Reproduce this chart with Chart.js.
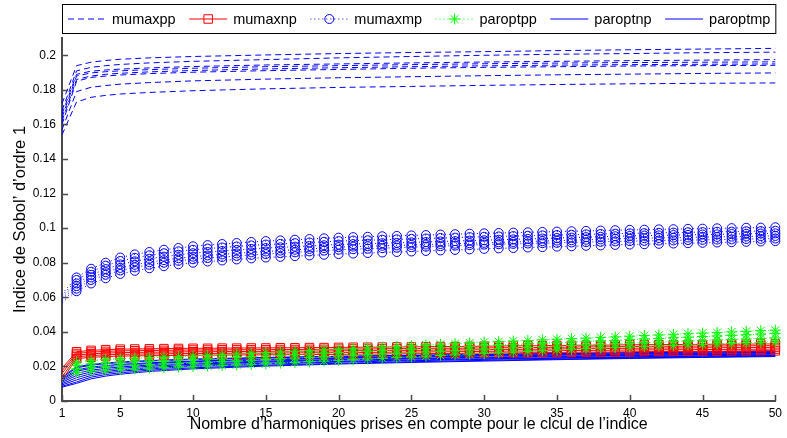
<!DOCTYPE html>
<html>
<head>
<meta charset="utf-8">
<script src="https://cdn.jsdelivr.net/npm/chart.js@4.4.1/dist/chart.umd.min.js"></script>
<style>
  html, body { margin: 0; padding: 0; background: #fff; }
</style>
</head>
<body>
<canvas id="c" width="787" height="438"></canvas>
<script>
// x des courbes avec marqueurs (un point par harmonique)
const xAll = [1,2,3,4,5,6,7,8,9,10,11,12,13,14,15,16,17,18,19,20,21,22,23,24,25,
  26,27,28,29,30,31,32,33,34,35,36,37,38,39,40,41,42,43,44,45,46,47,48,49,50];
// x des courbes sans marqueurs
const xSparse = [1,2,3,4,5,7,10,15,20,25,30,35,40,45,50];
const xTicks = [1,5,10,15,20,25,30,35,40,45,50];
const yTicks = [0,0.02,0.04,0.06,0.08,0.1,0.12,0.14,0.16,0.18,0.2];
const seriesNames = ['mumaxpp','mumaxnp','mumaxmp','paroptpp','paroptnp','paroptmp'];

const mumaxpp = [
  [0.1720,0.1940,0.1960,0.1970,0.1977,0.1985,0.1993,0.2002,0.2010,0.2016,0.2021,0.2027,0.2032,0.2036,0.2040],
  [0.1680,0.1910,0.1930,0.1940,0.1947,0.1956,0.1965,0.1975,0.1985,0.1993,0.2000,0.2006,0.2010,0.2015,0.2018],
  [0.1660,0.1890,0.1908,0.1915,0.1920,0.1927,0.1935,0.1944,0.1950,0.1956,0.1961,0.1965,0.1969,0.1972,0.1975],
  [0.1640,0.1880,0.1898,0.1905,0.1910,0.1917,0.1925,0.1934,0.1940,0.1946,0.1951,0.1955,0.1958,0.1960,0.1962],
  [0.1620,0.1860,0.1880,0.1890,0.1896,0.1904,0.1912,0.1921,0.1928,0.1934,0.1939,0.1943,0.1946,0.1948,0.1950],
  [0.1600,0.1850,0.1872,0.1880,0.1886,0.1894,0.1902,0.1911,0.1918,0.1925,0.1930,0.1934,0.1938,0.1940,0.1942],
  [0.1570,0.1790,0.1815,0.1825,0.1833,0.1842,0.1852,0.1862,0.1870,0.1876,0.1882,0.1887,0.1891,0.1895,0.1898],
  [0.1540,0.1730,0.1757,0.1768,0.1776,0.1785,0.1795,0.1806,0.1814,0.1820,0.1826,0.1831,0.1835,0.1838,0.1840]
];

const mumaxnp = [
  [0.0190,0.0285,0.0293,0.0297,0.0300,0.0301,0.0302,0.0303,0.0304,0.0305,
   0.0305,0.0306,0.0306,0.0307,0.0307,0.0308,0.0308,0.0309,0.0309,0.0310,
   0.0311,0.0311,0.0312,0.0313,0.0313,0.0314,0.0315,0.0315,0.0316,0.0317,
   0.0318,0.0319,0.0319,0.0320,0.0321,0.0322,0.0323,0.0323,0.0324,0.0325,
   0.0326,0.0326,0.0327,0.0327,0.0328,0.0328,0.0329,0.0329,0.0330,0.0330],
  [0.0175,0.0275,0.0283,0.0287,0.0290,0.0291,0.0292,0.0293,0.0294,0.0295,
   0.0295,0.0296,0.0296,0.0297,0.0297,0.0298,0.0298,0.0299,0.0299,0.0300,
   0.0301,0.0301,0.0302,0.0303,0.0303,0.0304,0.0305,0.0305,0.0306,0.0307,
   0.0308,0.0309,0.0309,0.0310,0.0311,0.0312,0.0313,0.0313,0.0314,0.0315,
   0.0316,0.0316,0.0317,0.0317,0.0318,0.0318,0.0319,0.0319,0.0320,0.0320],
  [0.0160,0.0265,0.0273,0.0277,0.0280,0.0281,0.0282,0.0283,0.0284,0.0285,
   0.0285,0.0286,0.0286,0.0287,0.0287,0.0288,0.0288,0.0289,0.0289,0.0290,
   0.0291,0.0291,0.0292,0.0293,0.0293,0.0294,0.0295,0.0295,0.0296,0.0297,
   0.0298,0.0299,0.0299,0.0300,0.0301,0.0302,0.0303,0.0303,0.0304,0.0305,
   0.0306,0.0306,0.0307,0.0307,0.0308,0.0308,0.0309,0.0309,0.0310,0.0310],
  [0.0140,0.0255,0.0263,0.0267,0.0270,0.0271,0.0272,0.0273,0.0274,0.0275,
   0.0275,0.0276,0.0276,0.0277,0.0277,0.0278,0.0278,0.0279,0.0279,0.0280,
   0.0281,0.0281,0.0282,0.0283,0.0283,0.0284,0.0285,0.0285,0.0286,0.0287,
   0.0288,0.0289,0.0289,0.0290,0.0291,0.0292,0.0293,0.0293,0.0294,0.0295,
   0.0296,0.0296,0.0297,0.0297,0.0298,0.0298,0.0299,0.0299,0.0300,0.0300],
  [0.0120,0.0245,0.0253,0.0257,0.0260,0.0261,0.0262,0.0263,0.0264,0.0265,
   0.0265,0.0266,0.0266,0.0267,0.0267,0.0268,0.0268,0.0269,0.0269,0.0270,
   0.0271,0.0271,0.0272,0.0273,0.0273,0.0274,0.0275,0.0275,0.0276,0.0277,
   0.0278,0.0279,0.0279,0.0280,0.0281,0.0282,0.0283,0.0283,0.0284,0.0285,
   0.0286,0.0286,0.0287,0.0287,0.0288,0.0288,0.0289,0.0289,0.0290,0.0290]
];

const mumaxmp = [
  [0.0620,0.0715,0.0765,0.0800,0.0830,0.0848,0.0862,0.0875,0.0885,0.0895,
   0.0902,0.0908,0.0914,0.0920,0.0925,0.0929,0.0933,0.0937,0.0941,0.0945,
   0.0948,0.0950,0.0953,0.0955,0.0958,0.0960,0.0963,0.0965,0.0968,0.0970,
   0.0972,0.0974,0.0976,0.0978,0.0980,0.0982,0.0984,0.0986,0.0988,0.0990,
   0.0991,0.0993,0.0994,0.0996,0.0997,0.0999,0.1000,0.1002,0.1003,0.1005],
  [0.0610,0.0700,0.0748,0.0783,0.0810,0.0828,0.0843,0.0855,0.0866,0.0875,
   0.0882,0.0888,0.0894,0.0900,0.0905,0.0909,0.0913,0.0917,0.0921,0.0925,
   0.0928,0.0930,0.0933,0.0935,0.0938,0.0940,0.0943,0.0945,0.0948,0.0950,
   0.0952,0.0954,0.0956,0.0958,0.0960,0.0962,0.0964,0.0966,0.0968,0.0970,
   0.0971,0.0973,0.0974,0.0976,0.0977,0.0979,0.0980,0.0982,0.0983,0.0985],
  [0.0600,0.0680,0.0730,0.0763,0.0790,0.0808,0.0823,0.0835,0.0846,0.0855,
   0.0862,0.0868,0.0874,0.0880,0.0885,0.0889,0.0893,0.0897,0.0901,0.0905,
   0.0908,0.0910,0.0913,0.0915,0.0918,0.0920,0.0923,0.0925,0.0928,0.0930,
   0.0933,0.0935,0.0938,0.0940,0.0943,0.0945,0.0948,0.0950,0.0953,0.0955,
   0.0957,0.0958,0.0960,0.0961,0.0963,0.0964,0.0966,0.0967,0.0969,0.0970],
  [0.0590,0.0665,0.0715,0.0745,0.0770,0.0788,0.0803,0.0815,0.0826,0.0835,
   0.0842,0.0848,0.0854,0.0860,0.0865,0.0870,0.0875,0.0880,0.0885,0.0890,
   0.0893,0.0895,0.0898,0.0900,0.0903,0.0905,0.0908,0.0910,0.0913,0.0915,
   0.0918,0.0920,0.0923,0.0925,0.0928,0.0930,0.0933,0.0935,0.0938,0.0940,
   0.0942,0.0943,0.0945,0.0946,0.0948,0.0949,0.0951,0.0952,0.0954,0.0955],
  [0.0580,0.0650,0.0700,0.0730,0.0755,0.0773,0.0788,0.0800,0.0811,0.0820,
   0.0827,0.0833,0.0839,0.0845,0.0850,0.0855,0.0860,0.0865,0.0870,0.0875,
   0.0878,0.0881,0.0884,0.0887,0.0890,0.0893,0.0896,0.0899,0.0902,0.0905,
   0.0907,0.0909,0.0911,0.0913,0.0915,0.0917,0.0919,0.0921,0.0923,0.0925,
   0.0926,0.0928,0.0929,0.0931,0.0932,0.0934,0.0935,0.0937,0.0938,0.0940],
  [0.0570,0.0635,0.0680,0.0710,0.0735,0.0753,0.0768,0.0780,0.0791,0.0800,
   0.0807,0.0813,0.0819,0.0825,0.0830,0.0834,0.0838,0.0842,0.0846,0.0850,
   0.0853,0.0856,0.0859,0.0862,0.0865,0.0868,0.0871,0.0874,0.0877,0.0880,
   0.0883,0.0885,0.0888,0.0890,0.0893,0.0895,0.0898,0.0900,0.0903,0.0905,
   0.0907,0.0909,0.0911,0.0913,0.0915,0.0917,0.0919,0.0921,0.0923,0.0925]
];

const paroptpp = [
  [0.0150,0.0225,0.0235,0.0240,0.0245,0.0248,0.0251,0.0254,0.0257,0.0260,
   0.0264,0.0268,0.0272,0.0276,0.0280,0.0284,0.0288,0.0292,0.0296,0.0300,
   0.0304,0.0308,0.0312,0.0316,0.0320,0.0324,0.0328,0.0332,0.0336,0.0340,
   0.0343,0.0347,0.0350,0.0354,0.0357,0.0361,0.0364,0.0368,0.0371,0.0375,
   0.0379,0.0382,0.0386,0.0389,0.0393,0.0396,0.0400,0.0403,0.0407,0.0410],
  [0.0135,0.0205,0.0215,0.0220,0.0225,0.0228,0.0231,0.0234,0.0237,0.0240,
   0.0244,0.0248,0.0252,0.0256,0.0260,0.0264,0.0268,0.0272,0.0276,0.0280,
   0.0284,0.0288,0.0292,0.0296,0.0300,0.0304,0.0308,0.0312,0.0316,0.0320,
   0.0323,0.0327,0.0330,0.0334,0.0337,0.0341,0.0344,0.0348,0.0351,0.0355,
   0.0359,0.0362,0.0366,0.0369,0.0373,0.0376,0.0380,0.0383,0.0387,0.0390],
  [0.0120,0.0185,0.0195,0.0200,0.0205,0.0208,0.0211,0.0214,0.0217,0.0220,
   0.0224,0.0228,0.0232,0.0236,0.0240,0.0244,0.0248,0.0252,0.0256,0.0260,
   0.0264,0.0268,0.0272,0.0276,0.0280,0.0284,0.0288,0.0292,0.0296,0.0300,
   0.0303,0.0307,0.0310,0.0314,0.0317,0.0321,0.0324,0.0328,0.0331,0.0335,
   0.0338,0.0341,0.0344,0.0347,0.0350,0.0353,0.0356,0.0359,0.0362,0.0365],
  [0.0110,0.0165,0.0173,0.0178,0.0182,0.0186,0.0190,0.0193,0.0197,0.0200,
   0.0203,0.0206,0.0209,0.0212,0.0215,0.0219,0.0223,0.0227,0.0231,0.0235,
   0.0239,0.0243,0.0247,0.0251,0.0255,0.0259,0.0263,0.0267,0.0271,0.0275,
   0.0279,0.0283,0.0287,0.0291,0.0295,0.0299,0.0303,0.0306,0.0309,0.0312,
   0.0315,0.0318,0.0321,0.0324,0.0327,0.0330,0.0333,0.0336,0.0339,0.0342]
];

const paroptnp = [
  [0.0140,0.0198,0.0212,0.0220,0.0226,0.0234,0.0243,0.0252,0.0259,0.0265,0.0270,0.0275,0.0280,0.0285,0.0290],
  [0.0128,0.0180,0.0196,0.0205,0.0212,0.0221,0.0231,0.0242,0.0250,0.0257,0.0263,0.0268,0.0273,0.0278,0.0282],
  [0.0115,0.0160,0.0178,0.0189,0.0197,0.0208,0.0219,0.0231,0.0240,0.0247,0.0253,0.0259,0.0265,0.0270,0.0275],
  [0.0100,0.0135,0.0158,0.0171,0.0180,0.0193,0.0206,0.0219,0.0229,0.0237,0.0244,0.0250,0.0256,0.0262,0.0267],
  [0.0085,0.0110,0.0138,0.0153,0.0163,0.0178,0.0192,0.0207,0.0218,0.0227,0.0235,0.0242,0.0249,0.0255,0.0260]
];

const paroptmp = [
  [0.0135,0.0192,0.0207,0.0216,0.0222,0.0231,0.0240,0.0250,0.0257,0.0263,0.0268,0.0273,0.0278,0.0283,0.0287],
  [0.0122,0.0172,0.0189,0.0199,0.0206,0.0216,0.0227,0.0238,0.0247,0.0254,0.0260,0.0265,0.0270,0.0275,0.0279],
  [0.0108,0.0148,0.0168,0.0180,0.0189,0.0201,0.0213,0.0226,0.0236,0.0243,0.0250,0.0256,0.0262,0.0267,0.0272],
  [0.0093,0.0122,0.0148,0.0162,0.0172,0.0186,0.0200,0.0214,0.0225,0.0233,0.0241,0.0247,0.0253,0.0259,0.0264],
  [0.0080,0.0102,0.0128,0.0144,0.0155,0.0171,0.0186,0.0202,0.0214,0.0223,0.0231,0.0239,0.0246,0.0252,0.0257]
];

const BLUE = '#0000ff', RED = '#ff0000', GREEN = '#00ff00';
const AXIS = '#4a4a4a';
const FONT = '"Liberation Sans", Arial, Helvetica, sans-serif';

const families = [
  { curves: mumaxpp,  xs: xSparse, color: BLUE,  dash: [6, 4], point: false,    radius: 0 },
  { curves: mumaxnp,  xs: xAll,    color: RED,   dash: [],     point: 'rect',   radius: 6 },
  { curves: mumaxmp,  xs: xAll,    color: BLUE,  dash: [1, 3], point: 'circle', radius: 4.5 },
  { curves: paroptpp, xs: xAll,    color: GREEN, dash: [1, 3], point: 'star',   radius: 5.5 },
  { curves: paroptnp, xs: xSparse, color: BLUE,  dash: [],     point: false,    radius: 0 },
  { curves: paroptmp, xs: xSparse, color: BLUE,  dash: [],     point: false,    radius: 0 }
];
families.forEach((f, k) => f.name = seriesNames[k]);

function makeDataset(f, i) {
  return {
    label: f.name,
    data: f.curves[i].map((v, j) => ({ x: f.xs[j], y: v })),
    borderColor: f.color,
    borderWidth: 1,
    borderDash: f.dash,
    fill: false,
    tension: 0,
    pointStyle: f.point,
    // pas de marqueur sur le premier point (x = 1)
    pointRadius: f.point ? (c => c.dataIndex === 0 ? 0 : f.radius) : 0,
    pointBorderColor: f.color,
    pointBackgroundColor: 'rgba(0,0,0,0)',
    pointBorderWidth: 1,
    clip: false
  };
}

// les courbes sont tracées cas par cas, comme dans la figure d'origine
const datasets = [];
const nMax = Math.max(...families.map(f => f.curves.length));
for (let i = 0; i < nMax; i++) {
  families.forEach(f => { if (i < f.curves.length) datasets.push(makeDataset(f, i)); });
}
// les étoiles vertes restent au-dessus
datasets.forEach((d, k) => d.order = -k - (d.label === 'paroptpp' ? 1000 : 0));

// graduations vers l'intérieur (style matlab)
const innerTicks = {
  id: 'innerTicks',
  afterDatasetsDraw(chart) {
    const { ctx, chartArea: a, scales: { x, y } } = chart;
    ctx.save();
    ctx.strokeStyle = AXIS;
    ctx.lineWidth = 1.5;
    ctx.beginPath();
    x.ticks.forEach(t => {
      const px = Math.round(x.getPixelForValue(t.value)) + 0.5;
      ctx.moveTo(px, a.bottom); ctx.lineTo(px, a.bottom - 6);
    });
    y.ticks.forEach(t => {
      const py = Math.round(y.getPixelForValue(t.value)) + 0.5;
      ctx.moveTo(a.left, py); ctx.lineTo(a.left + 6, py);
    });
    ctx.stroke();
    ctx.restore();
  }
};

// légende encadrée en haut
const boxLegend = {
  id: 'boxLegend',
  afterDraw(chart) {
    const { ctx, chartArea: a } = chart;
    const top = 4, h = 30, left = a.left, right = a.right + 1;
    const sampleLen = 38, gapText = 6, pad = 6;
    ctx.save();
    ctx.fillStyle = '#fff';
    ctx.fillRect(left, top, right - left, h);
    ctx.strokeStyle = '#000';
    ctx.lineWidth = 1;
    ctx.strokeRect(left + 0.5, top + 0.5, right - left - 1, h - 1);

    ctx.font = '14.5px ' + FONT;
    const widths = families.map(f => ctx.measureText(f.name).width);
    const used = widths.reduce((s, w) => s + w + sampleLen + gapText, 0);
    const space = (right - left - 2 * pad - used) / (families.length - 1);
    let x = left + pad;
    const cy = top + h / 2;
    families.forEach((f, k) => {
      ctx.strokeStyle = f.color;
      ctx.lineWidth = 1;
      ctx.setLineDash(f.dash);
      ctx.beginPath();
      ctx.moveTo(x, cy); ctx.lineTo(x + sampleLen, cy);
      ctx.stroke();
      ctx.setLineDash([]);
      if (f.point) {
        ctx.fillStyle = 'rgba(0,0,0,0)';
        Chart.helpers.drawPoint(ctx, { pointStyle: f.point, radius: f.radius, rotation: 0, borderWidth: 1 }, x + sampleLen / 2, cy);
      }
      ctx.fillStyle = '#000';
      ctx.textBaseline = 'middle';
      ctx.fillText(f.name, x + sampleLen + gapText, cy + 1);
      x += sampleLen + gapText + widths[k] + space;
    });
    ctx.restore();
  }
};

new Chart(document.getElementById('c'), {
  type: 'line',
  data: { datasets },
  options: {
    responsive: false,
    animation: false,
    events: [],
    layout: { padding: { top: 38, right: 6, left: 0, bottom: 0 } },
    plugins: { legend: { display: false }, tooltip: { enabled: false } },
    scales: {
      x: {
        type: 'linear', min: 1, max: 50,
        afterBuildTicks: s => { s.ticks = xTicks.map(v => ({ value: v })); },
        afterFit: s => { s.height = 37; },
        grid: { display: true, drawOnChartArea: false, drawTicks: false },
        border: { display: true, color: AXIS, width: 2 },
        ticks: { color: '#000', font: { family: FONT, size: 12 }, padding: 5, maxRotation: 0,
                 callback: v => String(v) },
        title: { display: true, text: 'Nombre d’harmoniques prises en compte pour le clcul de l’indice',
                 color: '#000', font: { family: FONT, size: 16 }, padding: { top: 0, bottom: 4 } }
      },
      y: {
        type: 'linear', min: 0, max: 0.21,
        afterBuildTicks: s => { s.ticks = yTicks.map(v => ({ value: v })); },
        afterFit: s => { s.width = 62; },
        grid: { display: true, drawOnChartArea: false, drawTicks: false },
        border: { display: true, color: AXIS, width: 2 },
        ticks: { color: '#000', font: { family: FONT, size: 12 }, padding: 6,
                 callback: v => String(v) },
        title: { display: true, text: 'Indice de Sobol’ d’ordre 1',
                 color: '#000', font: { family: FONT, size: 16.5 }, padding: { top: 11, bottom: 0 } }
      }
    }
  },
  plugins: [innerTicks, boxLegend]
});
</script>
</body>
</html>
